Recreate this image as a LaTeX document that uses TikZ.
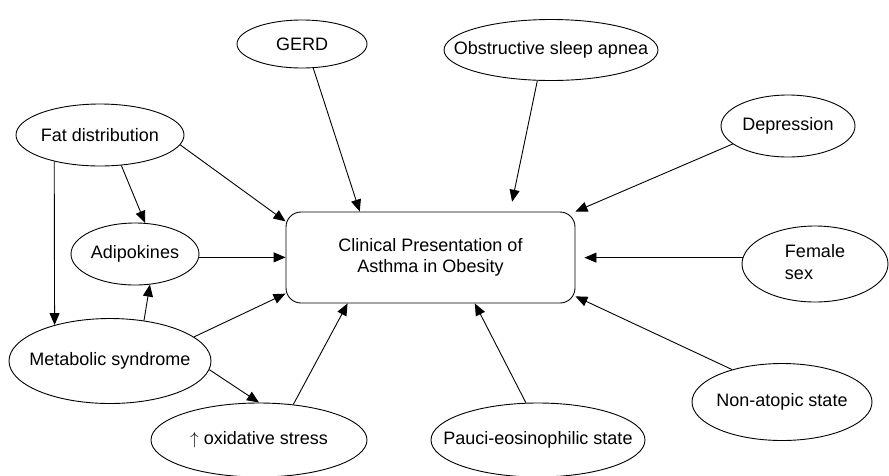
\documentclass[tikz,border=0pt]{standalone}
\usepackage{fontspec}
\setmainfont{Liberation Sans}
\usetikzlibrary{shapes.geometric,arrows.meta}
\newcommand{\olbl}[1]{\makebox[0pt]{#1}}
\tikzset{
  oval/.style={draw,ellipse,inner sep=0pt},
  arr/.style={-{Triangle[length=12pt,width=10pt]}},
}
\begin{document}
\begin{tikzpicture}[x=1pt,y=-1pt,line width=0.9pt,font=\fontsize{18}{21.5}\selectfont]
		\useasboundingbox (0,0) rectangle (889,475);
		\node[draw,rounded corners=15pt,inner sep=0pt,minimum width=289pt,minimum height=91pt,align=center](box) at (430.5,257.5) {Clinical Presentation of\\Asthma in Obesity};
		\node[oval,minimum width=130pt,minimum height=48pt](gerd) at (302,44) {\olbl{GERD}};
		\node[oval,minimum width=214pt,minimum height=61pt](osa) at (551,50) {\olbl{Obstructive sleep apnea}};
		\node[oval,minimum width=134pt,minimum height=62pt](dep) at (788,126) {\olbl{Depression}};
		\node[oval,minimum width=168pt,minimum height=62pt](fat) at (100,135) {\olbl{Fat distribution}};
		\node[oval,minimum width=128pt,minimum height=62pt](adip) at (135,254) {\olbl{Adipokines}};
		\node[oval,minimum width=146pt,minimum height=76pt](fem) at (815,264) {\olbl{\begin{tabular}{@{}l@{}}Female\\sex\end{tabular}}};
		\node[oval,minimum width=202pt,minimum height=85pt](meta) at (110,361) {\olbl{Metabolic syndrome}};
		\node[oval,minimum width=216pt,minimum height=74pt](ox) at (259,440) {\olbl{$\uparrow$ oxidative stress}};
		\node[oval,minimum width=214pt,minimum height=74pt](pauci) at (538,440) {\olbl{Pauci-eosinophilic state}};
		\node[oval,minimum width=180pt,minimum height=77pt](nonat) at (782,402) {\olbl{Non-atopic state}};
		\draw[arr] (gerd.295)--(box.147);
		\draw[arr,shorten >=10pt] (osa.246)--(box.30);
		\draw[arr] (dep.198)--(box.north east);
		\draw[arr,shorten >=9pt] (fem.175)--(fem.175 -| box.east);
		\draw[arr] (nonat.147)--(box.345.6);
		\draw[arr] (pauci.108)--(box.314.4);
		\draw[arr] (ox.46)--(box.209);
		\draw[arr] (meta.16.6)--(box.194.5);
		\draw[arr] (meta.355)--(ox.north);
		\draw[arr] (meta.50.3)--(adip.296.5);
		\draw[arr] (fat.210)--(meta.147.5);
		\draw[arr] (fat.305)--(adip.72);
		\draw[arr] (fat.353)--(box.166);
		\draw[arr] (adip.357)--(adip.357 -| box.west);
	\end{tikzpicture}
\end{document}
